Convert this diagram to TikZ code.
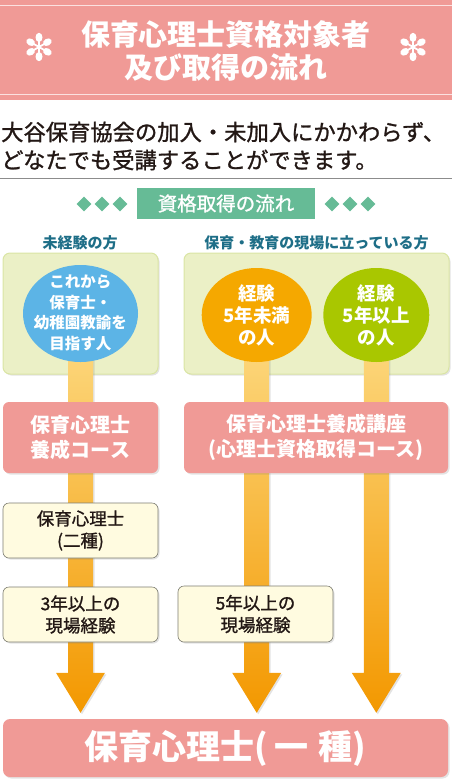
\documentclass[tikz,border=0pt]{standalone}
\usepackage{fontspec}
\newfontfamily\jp{Noto Sans CJK JP}
\newfontfamily\jpm[FakeBold=1.2]{Noto Sans CJK JP}
\usetikzlibrary{shapes.geometric,shadows,calc}
\definecolor{pinkc}{HTML}{F09A96}
\definecolor{pinkline}{HTML}{FBE1E0}
\definecolor{greenlab}{HTML}{66BB96}
\definecolor{boxgreen}{HTML}{EBF0C6}
\definecolor{boxgreenline}{HTML}{DAE5A4}
\definecolor{bluec}{HTML}{5CB4E6}
\definecolor{orangec}{HTML}{F5A800}
\definecolor{limec}{HTML}{A9C700}
\definecolor{stemtop}{HTML}{FDDC86}
\definecolor{stemmid}{HTML}{F8BE45}
\definecolor{stembot}{HTML}{F39800}
\definecolor{cream}{HTML}{FFFBE0}
\definecolor{creamline}{HTML}{7D7D72}
\definecolor{tealc}{HTML}{1E6E87}
\definecolor{ink}{HTML}{231815}
\definecolor{rulec}{HTML}{8C8C8C}
\pgfdeclarelayer{bg}
\pgfdeclarelayer{arr}
\pgfsetlayers{bg,arr,main}
\tikzset{
  shad/.style={drop shadow={shadow xshift=1.5pt,shadow yshift=-1.5pt,opacity=.22}},
  pinkbox/.style={fill=pinkc, rounded corners=6pt, shad, inner sep=0pt, text=white,
    font={\jp\bfseries\fontsize{20}{25}\selectfont}, align=center},
  creambox/.style={fill=cream, draw=creamline, line width=0.6pt, rounded corners=6pt, shad, inner sep=0pt,
    text=ink, font={\jpm\fontsize{17.5}{22}\selectfont}, align=center},
  greenbox/.style={fill=boxgreen, draw=boxgreenline, line width=1pt, rounded corners=7pt, shad, inner sep=0pt},
  circ/.style={ellipse, inner sep=0pt},
  circtext/.style={text=white, align=center, inner sep=0pt},
  head/.style={text=tealc, font={\jp\bfseries\fontsize{15}{18}\selectfont}, inner sep=0pt},
  dia/.style={diamond, fill=greenlab, minimum size=15pt, inner sep=0pt},
  arrowshade/.style={top color=stemtop, middle color=stemmid, bottom color=stembot, shad},
}
\newcommand\fatarrow[2]{%
  \path[arrowshade] ($(#1)+(-12.5,0)$) -- ($(#2)+(-12.5,-40)$) -- ($(#2)+(-24.5,-40)$) -- (#2)
    -- ($(#2)+(24.5,-40)$) -- ($(#2)+(12.5,-40)$) -- ($(#1)+(12.5,0)$) -- cycle;}
\newcommand\flowerat[1]{%
  \begin{scope}[shift={#1}]
    \foreach \a in {90,30,-30,-90,-150,150}{
      \draw[white, line width=1.8pt] (0,0) -- (\a:7);
      \fill[white, rotate=\a] (9.6,0) ellipse (4.6 and 3.5);
    }
  \end{scope}}
\begin{document}
\begin{tikzpicture}[x=1pt,y=-1pt]
\useasboundingbox (0,0) rectangle (452,780);
% header
\fill[pinkc] (0,0) rectangle (452,100);
\draw[pinkline, line width=1pt] (0,5) -- (452,5);
\draw[pinkline, line width=1pt] (0,94) -- (452,94);
\flowerat{(39,47)}
\flowerat{(413,47)}
\node[text=white, align=center, inner sep=0pt, font={\jp\bfseries\fontsize{29}{33}\selectfont}] (title) at (226,51)
  {保育心理士資格対象者\\及び取得の流れ};
% subtitle
\node[anchor=west, align=left, inner sep=0pt, text=ink, font={\jpm\fontsize{22.3}{28}\selectfont}] (sub) at (1,146)
  {大谷保育協会の加入・未加入にかかわらず、\\どなたでも受講することができます。};
\draw[rulec, line width=0.8pt] (0,178) -- (452,178);
% section label
\node[fill=greenlab, minimum width=178pt, minimum height=31pt, inner sep=0pt, text=white,
  font={\jpm\fontsize{19.5}{22}\selectfont}] (lab) at (226,203.5) {資格取得の流れ};
\node[dia] (d1) at (84,204) {};
\node[dia] (d2) at (102,204) {};
\node[dia] (d3) at (120,204) {};
\node[dia] (d4) at (332,204) {};
\node[dia] (d5) at (350,204) {};
\node[dia] (d6) at (368,204) {};
% headings
\node[head] (h1) at (80,243) {未経験の方};
\node[head] (h2) at (316.5,243) {保育・教育の現場に立っている方};
% green boxes
\begin{pgfonlayer}{bg}
\node[greenbox, minimum width=155pt, minimum height=121pt] (g1) at (80.5,313.5) {};
\node[greenbox, minimum width=265pt, minimum height=121pt] (g2) at (316.5,313.5) {};
\end{pgfonlayer}
% circles
\node[circ, fill=bluec, minimum width=115pt, minimum height=97pt] (c1) at (80.5,313.5) {};
\node[circ, fill=orangec, minimum width=110pt, minimum height=94pt] (c2) at (256.7,315) {};
\node[circ, fill=limec, minimum width=106pt, minimum height=94pt] (c3) at (376.3,315) {};
\node[circtext, font={\jp\bfseries\fontsize{15.5}{20.5}\selectfont}] (t1) at (80.5,313) {これから\\保育士・\\幼稚園教諭を\\目指す人};
\node[circtext, font={\jp\bfseries\fontsize{18.5}{22}\selectfont}] (t2) at (256.7,315) {経験\\5年未満\\の人};
\node[circtext, font={\jp\bfseries\fontsize{18.5}{22}\selectfont}] (t3) at (376.3,315) {経験\\5年以上\\の人};
% boxes
\node[pinkbox, minimum width=155pt, minimum height=71pt] (p1) at (80.5,437.5) {保育心理士\\養成コース};
\node[pinkbox, minimum width=264pt, minimum height=71pt] (p2) at (316,437.5) {保育心理士養成講座\\(心理士資格取得コース)};
\node[creambox, minimum width=155pt, minimum height=55pt] (k1) at (80.5,530.5) {保育心理士\\(二種)};
\node[creambox, minimum width=155pt, minimum height=55pt] (k2) at (80.5,614.5) {3年以上の\\現場経験};
\node[creambox, minimum width=155pt, minimum height=56pt] (k3) at (255.5,614) {5年以上の\\現場経験};
\node[fill=pinkc, rounded corners=7pt, shad, inner sep=0pt, minimum width=445pt, minimum height=58pt,
  text=white, font={\jp\bfseries\fontsize{34}{36}\selectfont}] (fin) at (225.5,748)
  {保育心理士(\hspace{6pt}一\hspace{10pt}種)};
% arrows
\coordinate (a1) at ($(c1.center |- fin.north)+(0,-6)$);
\coordinate (a2) at ($(c2.center |- fin.north)+(0,-6)$);
\coordinate (a3) at ($(c3.center |- fin.north)+(0,-6)$);
\begin{pgfonlayer}{arr}
\fatarrow{c1.center}{a1}
\fatarrow{c2.center}{a2}
\fatarrow{c3.center}{a3}
\end{pgfonlayer}
\end{tikzpicture}
\end{document}
